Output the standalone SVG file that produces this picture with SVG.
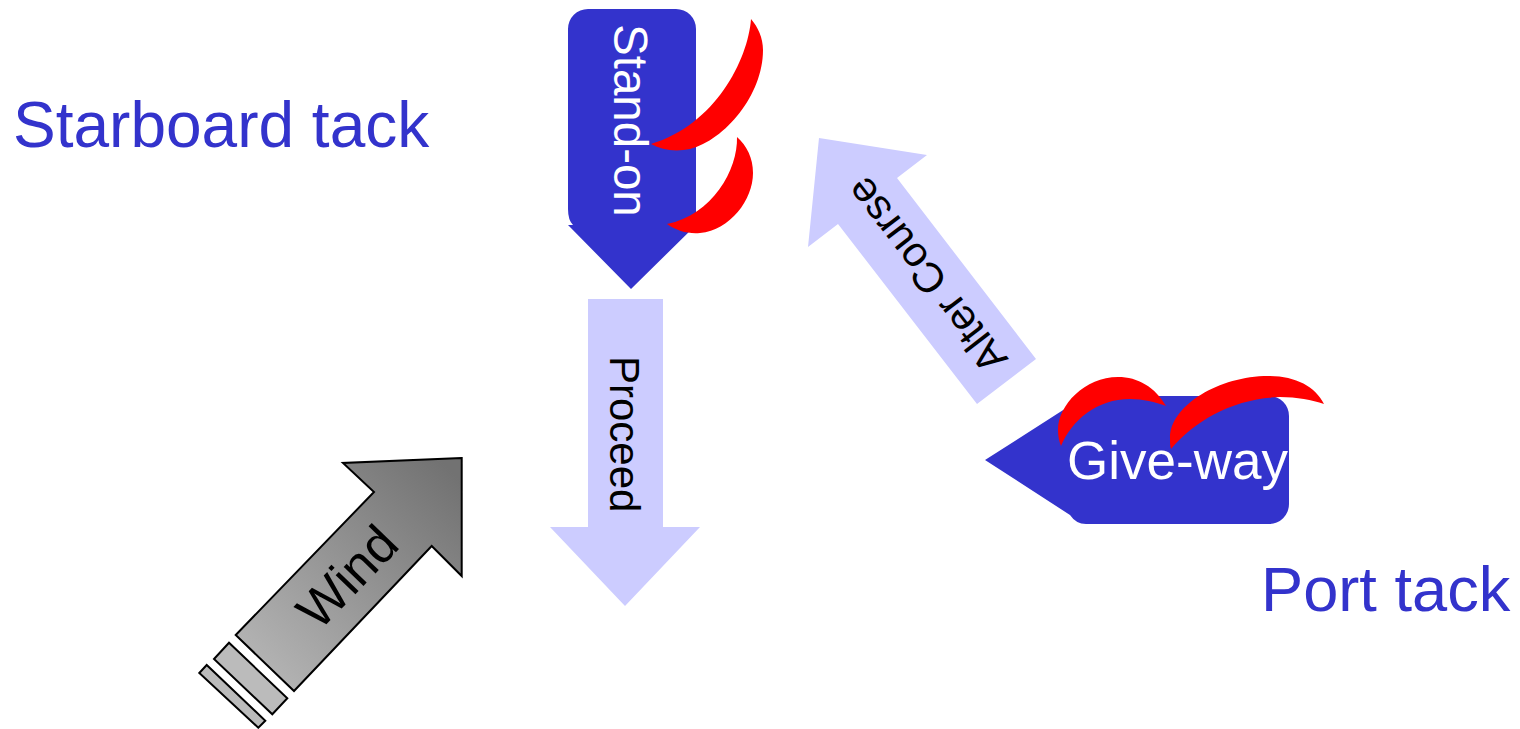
<svg xmlns="http://www.w3.org/2000/svg" width="1520" height="729" viewBox="0 0 1520 729">
<style>
text{font-family:"Liberation Sans",Arial,sans-serif}
.boat{fill:#3333cc}
.sail{fill:#ff0000}
.move{fill:#ccccff}
.wt{fill:#fff}
.bk{fill:#000}
.title{fill:#3333cc}
.w{stroke:#000;stroke-width:2;stroke-linejoin:miter}
</style>
<defs>
<linearGradient id="wg" gradientUnits="userSpaceOnUse" x1="262" y1="662" x2="450" y2="470">
<stop offset="0" stop-color="#b2b2b2"/><stop offset="1" stop-color="#727272"/>
</linearGradient>
</defs>
<rect width="1520" height="729" fill="#fff"/>
<g id="starboard-label"><text class="title" x="13" y="147" font-size="64">Starboard tack</text></g>
<g id="port-label"><text class="title" x="1261" y="611" font-size="63.200">Port tack</text></g>
<g id="stand-on">
<path class="boat" d="M588 9H676A20 20 0 0 1 696 29V225L631 289L568 225L573 225Q568 220 568 209V29A20 20 0 0 1 588 9Z"/>
<path class="sail" d="M751 19C748 60 715 125 651 144C662 150 675 152 690 149C725 140 763 95 763 50C763 38 758 27 751 19Z"/>
<path class="sail" d="M737 137C738 170 712 215 667 224C677 231 688 234 700 233C730 230 753 200 753 173C753 158 747 146 737 137Z"/>
<text class="wt" transform="translate(613.500 24) rotate(90)" font-size="47.500">Stand-on</text>
</g>
<g id="give-way">
<path class="boat" d="M985 460L1070 515Q1076 524 1086 524H1269A20 20 0 0 0 1289 504V416A20 20 0 0 0 1269 396H1085Z"/>
<path class="sail" d="M1061 446C1072 420 1097 399 1130 399C1143 399 1155 402 1166 406C1155 387 1138 377 1118 377C1085 377 1058 405 1058 430C1058 436 1059 441 1061 446Z"/>
<path class="sail" d="M1171 449C1195 420 1235 398 1280 397C1297 397 1312 400 1324 404C1315 386 1295 376 1268 376C1220 376 1170 405 1170 438C1170 442 1170 446 1171 449Z"/>
<text class="wt" x="1067" y="479" font-size="53">Give-way</text>
</g>
<g id="connectors">
<g id="proceed">
<path class="move" d="M588 299H663V527H700L625 606L550 527H588Z"/>
<text class="bk" transform="translate(610 356) rotate(90)" font-size="42">Proceed</text>
</g>
<g id="alter-course">
<path class="move" d="M819 138L927 155L897 178L1036 359L977 404L838 224L808 247Z"/>
<text class="bk" transform="translate(1009 359) rotate(-127.6)" font-size="42">Alter Course</text>
</g>
<g id="wind">
<path class="w" fill="url(#wg)" d="M461.700 458L343 463L374 492L235.700 635L294 691L431.700 546L461.700 576Z"/>
<path class="w" fill="#bbbbbb" d="M229 642.700L214 659L272.300 714.300L287.300 698.300Z"/>
<path class="w" fill="#bbbbbb" d="M206.700 665L199.300 673L258.300 727.700L265.300 720.700Z"/>
<text class="bk" transform="translate(319 632) rotate(-46)" font-size="52">Wind</text>
</g>
</g>
</svg>
